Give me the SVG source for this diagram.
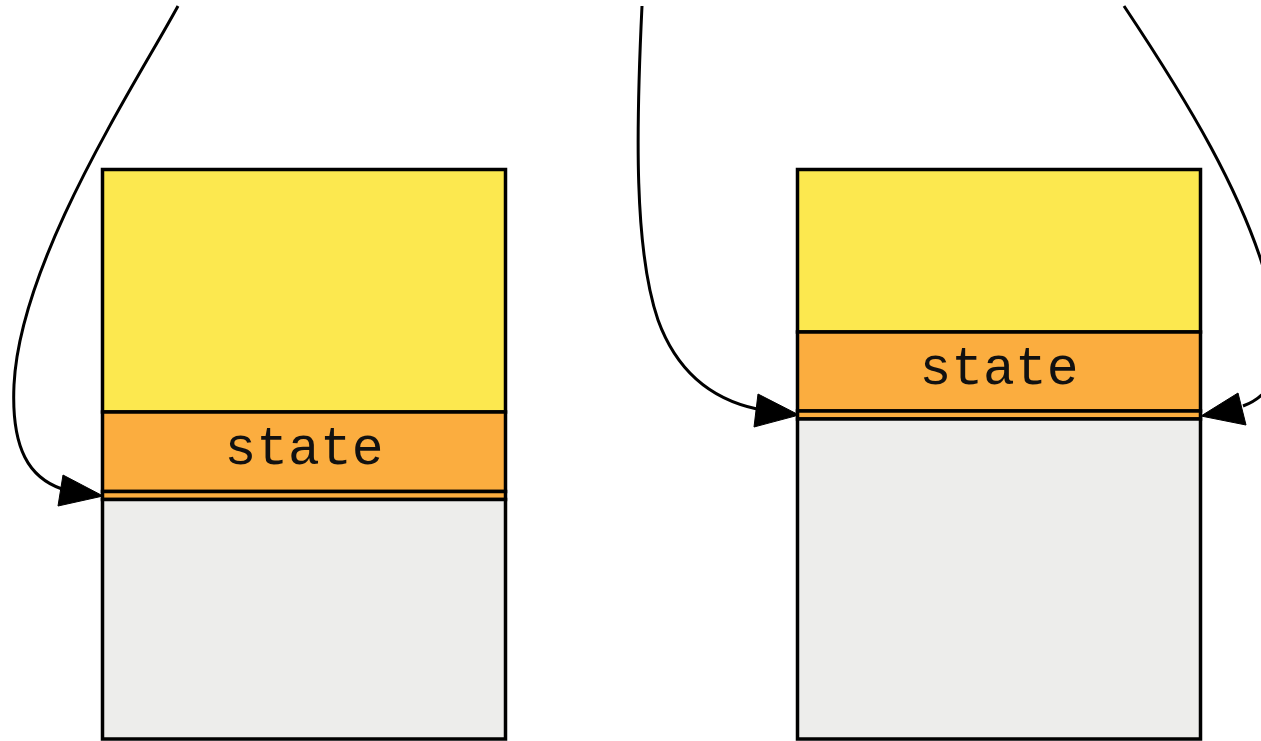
<svg xmlns="http://www.w3.org/2000/svg" width="1261" height="741" viewBox="0 0 1261 741">
  <defs>
    <style>
      .cell { stroke: #000; stroke-width: 3.5; }
      .top { fill: #fce84f; }
      .state { fill: #fbad3f; }
      .rest { fill: #ededeb; }
      .label { font-family: "Liberation Mono", "Courier New", monospace; font-size: 53px; fill: #111; text-anchor: middle; }
      .edge { fill: none; stroke: #000; stroke-width: 3; }
      .head { fill: #000; stroke: #000; stroke-width: 1; }
    </style>
  </defs>
  <rect width="1261" height="741" fill="#fff"/>

  <!-- left stack -->
  <g id="stack-left">
    <rect class="cell top" x="102.5" y="169.5" width="403" height="242.5"/>
    <rect class="cell state" x="102.5" y="412" width="403" height="79.5"/>
    <rect class="cell state" x="102.5" y="491.5" width="403" height="8"/>
    <rect class="cell rest" x="102.5" y="499.5" width="403" height="239.5"/>
    <text class="label" x="304" y="463.5">state</text>
  </g>

  <!-- right stack -->
  <g id="stack-right">
    <rect class="cell top" x="797.5" y="169.5" width="403" height="162.5"/>
    <rect class="cell state" x="797.5" y="332" width="403" height="79"/>
    <rect class="cell state" x="797.5" y="411" width="403" height="8"/>
    <rect class="cell rest" x="797.5" y="419" width="403" height="320"/>
    <text class="label" x="999" y="383.5">state</text>
  </g>

  <!-- connectors -->
  <g id="connectors">
    <path class="edge" d="M178,6 C135,85 20,260 14,385 C11,450 30,478 62,489"/>
    <polygon class="head" points="63,475 58,506 103,496"/>

    <path class="edge" d="M642,6 C636,130 634,250 658,320 C678,375 715,400 757,409"/>
    <polygon class="head" points="758,394 754,427 799,415"/>

    <path class="edge" d="M1124,6 C1180,90 1250,200 1272,300 C1288,370 1272,395 1243,406"/>
    <polygon class="head" points="1238,393 1246,425 1201,416"/>
  </g>
</svg>
